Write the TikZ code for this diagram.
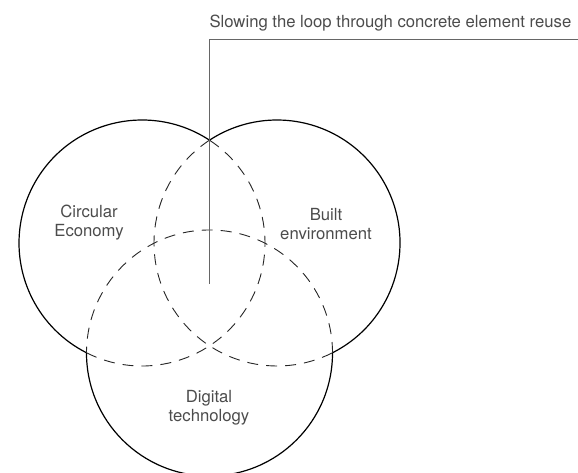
\documentclass[tikz,border=0pt]{standalone}
\usepackage{fontspec}
\setmainfont{TeX Gyre Heros}
\def\rr{123bp}
\tikzset{
  ring/.style={black,line width=1.2bp},
  hidden/.style={black!85,line width=0.9bp,dash pattern=on 11bp off 8bp},
  leader/.style={black!60,line width=0.8bp},
  lbl/.style={black!70,align=center,inner sep=0pt,font=\fontsize{16.7bp}{19bp}\selectfont},
}
\begin{document}
\begin{tikzpicture}[x=1bp,y=1bp,line join=round]
%%
\useasboundingbox (0,0) rectangle (578,473);
\coordinate (econ) at (142,230);
\coordinate (built) at (277,230);
\coordinate (digital) at (209.5,120);
%
\draw [ring] ([shift={(56.7:\rr)}]econ) arc[start angle=56.7,end angle=243.2,radius=\rr];
\draw [hidden] ([shift={(243.2:\rr)}]econ) arc[start angle=243.2,end angle=416.7,radius=\rr];
\draw [ring] ([shift={(-63.2:\rr)}]built) arc[start angle=-63.2,end angle=123.3,radius=\rr];
\draw [hidden] ([shift={(123.3:\rr)}]built) arc[start angle=123.3,end angle=296.8,radius=\rr];
\draw [ring] ([shift={(180:\rr)}]digital) arc[start angle=180,end angle=360,radius=\rr];
\draw [hidden] ([shift={(0:\rr)}]digital) arc[start angle=0,end angle=180,radius=\rr];
%
\node (circular) at (89,250) [lbl] {Circular\\Economy};
\node (environment) at (326,249) [lbl] {Built\\environment};
\node (technology) at (209,65.5) [lbl] {Digital\\technology};
%
\node (reuse) at (209.3,445.3) [lbl,anchor=base west] {Slowing the loop through concrete element reuse};
\coordinate (tip) at (209.5,189);
\coordinate (rim) at (578,433.7);
\draw [leader] (tip) |- (rim);
%
\end{tikzpicture}
\end{document}
